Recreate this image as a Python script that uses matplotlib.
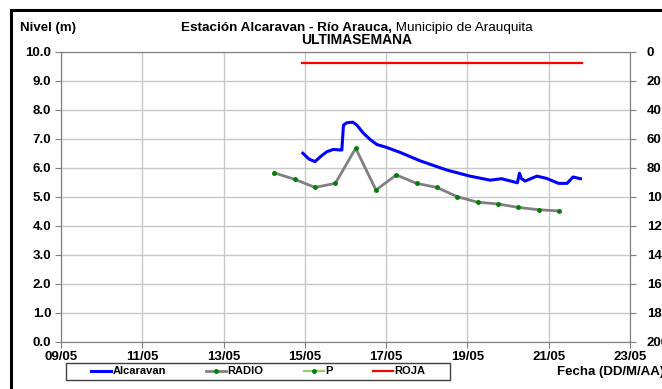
import matplotlib
matplotlib.use("Agg")
import matplotlib.pyplot as plt
from matplotlib.lines import Line2D
from matplotlib.patches import Rectangle

plt.rcParams["font.family"] = ["Liberation Sans", "DejaVu Sans"]

# dia de mayo (con fraccion de dia) y nivel en metros
alcaravan_dia = [14.95, 15.1, 15.25, 15.4, 15.54, 15.7, 15.88, 15.91, 15.95, 16.03, 16.18,
                 16.28, 16.44, 16.6, 16.77, 17.01, 17.34, 17.83, 18.49, 19.06, 19.56,
                 19.84, 20.23, 20.28, 20.33, 20.42, 20.71, 20.95, 21.24, 21.45, 21.6, 21.78]
alcaravan_nivel = [6.50, 6.30, 6.21, 6.40, 6.55, 6.63, 6.61, 6.61, 7.47, 7.55, 7.57,
                   7.47, 7.19, 6.98, 6.80, 6.70, 6.53, 6.24, 5.92, 5.71, 5.57,
                   5.62, 5.48, 5.81, 5.62, 5.54, 5.71, 5.63, 5.46, 5.46, 5.68, 5.62]

radio_dia = [14.25, 14.75, 15.25, 15.75, 16.25, 16.75, 17.25, 17.75, 18.25, 18.75,
             19.25, 19.75, 20.25, 20.75, 21.25]
radio_nivel = [5.82, 5.60, 5.32, 5.46, 6.67, 5.23, 5.75, 5.46, 5.32, 5.00,
               4.81, 4.75, 4.63, 4.55, 4.51]

p_dia = []
p_mm = []

roja_dia = [14.93, 21.81]
roja_nivel = [9.6, 9.6]

x_ticks = [9, 11, 13, 15, 17, 19, 21, 23]
x_labels = ["09/05", "11/05", "13/05", "15/05", "17/05", "19/05", "21/05", "23/05"]

fig = plt.figure(figsize=(6.62, 3.89), dpi=100)
ax = fig.add_axes([61 / 662, 1 - 341.7 / 389, (630 - 61) / 662, (341.7 - 51.7) / 389])
ax2 = ax.twinx()

l1, = ax.plot(alcaravan_dia, alcaravan_nivel, color="#0000ff", lw=2.2, label="Alcaravan")
l2, = ax.plot(radio_dia, radio_nivel, color="#808080", lw=2.0, marker="o", ms=2.5,
              mfc="#008000", mec="#008000", label="RADIO")
l3, = ax2.plot(p_dia, p_mm, color="#99cc66", lw=1.5, marker="o", ms=2.5,
               mfc="#008000", mec="#008000", label="P")
l4, = ax.plot(roja_dia, roja_nivel, color="#ff0000", lw=1.6, label="ROJA")

ax.set_xlim(9, 23)
ax.set_ylim(0, 10)
ax.set_xticks(x_ticks)
ax.set_xticklabels(x_labels)
ax.set_yticks([i for i in range(11)])
ax.set_yticklabels([f"{i:.1f}" for i in range(11)])
ax.grid(True, color="#c8c8c8", lw=1)
ax.set_axisbelow(True)

ax2.set_ylim(200, 0)
ax2.set_yticks(list(range(0, 201, 20)))

for a in (ax, ax2):
    for s in a.spines.values():
        s.set_color("#808080")
    a.tick_params(direction="out", length=4, color="#808080", labelsize=9.5, pad=3)
    for t in a.get_xticklabels() + a.get_yticklabels():
        t.set_fontweight("bold")
ax2.tick_params(axis="y", pad=8)

# textos
fig.text(20 / 662, 1 - 28 / 389, "Nivel (m)", fontsize=9.5, fontweight="bold", va="center")
t1 = fig.text(0, 1 - 28 / 389, "Estación Alcaravan - Río Arauca,", fontsize=9.7,
              fontweight="bold", va="center")
t2 = fig.text(0, 1 - 28 / 389, " Municipio de Arauquita", fontsize=9.7, va="center")
fig.canvas.draw()
w1 = t1.get_window_extent().width
w2 = t2.get_window_extent().width
x0 = 357 - (w1 + w2) / 2
t1.set_x(x0 / 662)
t2.set_x((x0 + w1) / 662)
fig.text(357 / 662, 1 - 40 / 389, "ULTIMASEMANA", fontsize=10, fontweight="bold",
         ha="center", va="center")
fig.text(557 / 662, 1 - 372 / 389, "Fecha (DD/M/AA)", fontsize=9.5, fontweight="bold",
         va="center")

# leyenda con su caja
fig.add_artist(Rectangle((66 / 662, 1 - 380 / 389), 384 / 662, 17 / 389,
                         transform=fig.transFigure, facecolor="white",
                         edgecolor="#404040", lw=1.0))
fig.legend(handles=[l1, l2, l3, l4], ncol=4, loc="center",
           bbox_to_anchor=(258 / 662, 1 - 371.5 / 389), frameon=False,
           handlelength=1.8, handletextpad=0.15, columnspacing=3.6,
           borderaxespad=0, borderpad=0, prop={"weight": "bold", "size": 8})

# marco negro
fig.add_artist(Line2D([11 / 662, 11 / 662], [0, 1 - 10 / 389], transform=fig.transFigure,
                      color="black", lw=2.2))
fig.add_artist(Line2D([11 / 662, 1], [1 - 10 / 389, 1 - 10 / 389], transform=fig.transFigure,
                      color="black", lw=2.2))

fig.savefig("out.png", dpi=100)
